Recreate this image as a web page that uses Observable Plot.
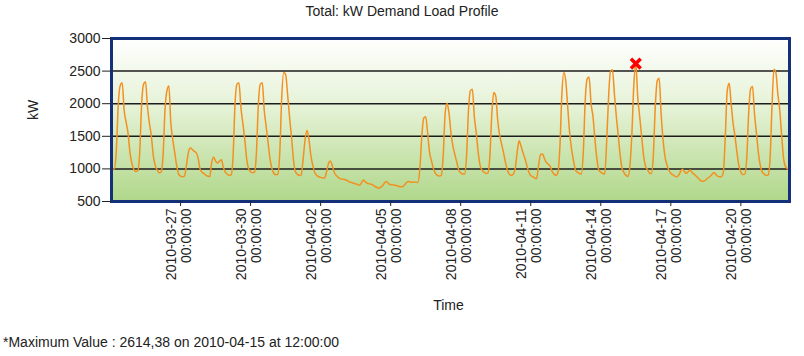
<!DOCTYPE html>
<html><head><meta charset="utf-8">
<script src="https://cdn.jsdelivr.net/npm/d3@7"></script>
<script src="https://cdn.jsdelivr.net/npm/@observablehq/plot@0.6"></script>
<style>
body{margin:0;background:#fff;font-family:"Liberation Sans",Arial,sans-serif;color:#222}
#title{height:22px;line-height:22px;text-align:center;font-size:14px}
#caption{font-size:14px;padding-left:3px;height:24px;line-height:20px}
#chart svg{display:block}
</style></head><body>
<div id="title">Total: kW Demand Load Profile</div>
<div id="chart"></div>
<div id="caption">*Maximum Value : 2614,38 on 2010-04-15 at 12:00:00</div>
<script>
// kW readings every 2 hours (00,02,...,22h), one row of 12 per day, from 2010-03-24
const wk1 = [ // 03-24 .. 03-30
  1000, 995, 1000, 1300, 2000, 2280, 2320, 1900, 1720, 1550, 1250, 1080,
  990, 960, 970, 1250, 2000, 2300, 2335, 1950, 1700, 1500, 1200, 1050,
  980, 940, 950, 1200, 1900, 2200, 2270, 1700, 1450, 1250, 1050, 920,
  890, 880, 890, 1050, 1250, 1320, 1300, 1270, 1250, 1170, 1000, 950,
  930, 900, 890, 880, 1100, 1180, 1120, 1090, 1120, 1140, 1020, 950,
  920, 900, 910, 1200, 2000, 2300, 2320, 1950, 1700, 1450, 1150, 1000,
  960, 940, 950, 1250, 2000, 2300, 2320, 1900, 1650, 1400, 1150, 1000
];
const wk2 = [ // 03-31 .. 04-06
  930, 910, 920, 1250, 2100, 2480, 2450, 2150, 1800, 1500, 1150, 960,
  920, 900, 910, 1150, 1450, 1590, 1450, 1200, 1050, 940, 900, 880,
  870, 860, 860, 950, 1080, 1120, 1050, 950, 900, 870, 850, 840,
  840, 830, 815, 800, 790, 780, 770, 760, 750, 790, 830, 800,
  780, 770, 765, 750, 730, 715, 705, 720, 750, 790, 805, 770,
  760, 755, 750, 745, 735, 725, 725, 750, 785, 805, 800, 795,
  800, 796, 790, 1000, 1500, 1780, 1800, 1550, 1250, 1120, 1000, 930
];
const wk3 = [ // 04-07 .. 04-13
  900, 890, 900, 1200, 1850, 2005, 1850, 1550, 1350, 1220, 1100, 980,
  940, 920, 920, 1200, 1900, 2200, 2220, 1800, 1550, 1250, 1050, 980,
  950, 930, 940, 1200, 1850, 2170, 2120, 1750, 1520, 1380, 1250, 1100,
  980, 920, 900, 920, 1000, 1250, 1430, 1350, 1250, 1160, 1050, 950,
  900, 880, 860, 850, 1050, 1220, 1230, 1160, 1100, 1070, 1040, 960,
  920, 900, 950, 1350, 2150, 2480, 2350, 1950, 1550, 1300, 1120, 980,
  950, 930, 920, 1250, 2050, 2380, 2410, 2000, 1800, 1450, 1150, 980
];
const wk4 = [ // 04-14 .. 04-20
  950, 930, 920, 1400, 2100, 2500, 2520, 2150, 1800, 1500, 1200, 1000,
  940, 900, 885, 1050, 1550, 2300, 2614, 2100, 1800, 1500, 1200, 1040,
  990, 934, 930, 1200, 1950, 2350, 2390, 1850, 1450, 1190, 1060, 980,
  934, 910, 890, 880, 900, 960, 995, 960, 930, 960, 985, 940,
  920, 890, 860, 830, 810, 815, 830, 860, 880, 910, 945, 920,
  890, 880, 880, 950, 1500, 2200, 2315, 2000, 1700, 1500, 1250, 1050,
  950, 915, 920, 1150, 1850, 2230, 2265, 1850, 1550, 1250, 1050, 950
];
const wk5 = [ // 04-21 .. 04-22 02h
  920, 900, 905, 1150, 1950, 2530, 2480, 2150, 1900, 1500, 1150, 1030,
  1000, 985
];
const yTicks = [500, 1000, 1500, 2000, 2500, 3000];
const gridValues = [1000, 1500, 2000, 2500];
const tickDates = ["2010-03-27", "2010-03-30", "2010-04-02", "2010-04-05", "2010-04-08",
                   "2010-04-11", "2010-04-14", "2010-04-17", "2010-04-20"];
const tickTime = "00:00:00";
const peakTime = "2010-04-15T12:00:00Z";
const peakValue = 2614.38;

const startDay = Date.UTC(2010, 2, 24);
const values = [wk1, wk2, wk3, wk4, wk5].flat();
const data = values.map((v, i) => ({t: new Date(startDay + i * 2 * 3600e3), v}));
const ticks = tickDates.map(s => new Date(s + "T00:00:00Z"));
const peak = [{t: new Date(peakTime), v: peakValue}];

const bg = (index, scales, vals, dims) => {
  const g = d3.create("svg:g");
  const grad = g.append("defs").append("linearGradient").attr("id", "bgGrad")
    .attr("x1", 0).attr("y1", 0).attr("x2", 0).attr("y2", 1);
  grad.append("stop").attr("offset", "0%").attr("stop-color", "#ffffff");
  grad.append("stop").attr("offset", "45%").attr("stop-color", "#e3f1d3");
  grad.append("stop").attr("offset", "100%").attr("stop-color", "#b0d78a");
  g.append("rect")
    .attr("x", dims.marginLeft).attr("y", dims.marginTop)
    .attr("width", dims.width - dims.marginLeft - dims.marginRight)
    .attr("height", dims.height - dims.marginTop - dims.marginBottom)
    .attr("fill", "url(#bgGrad)");
  return g.node();
};

const chart = Plot.plot({
  width: 804, height: 310,
  marginTop: 16, marginBottom: 131, marginLeft: 111, marginRight: 15,
  style: {fontFamily: '"Liberation Sans", Arial, sans-serif', fontSize: "14px", color: "#222", background: "transparent"},
  x: {type: "utc", domain: [new Date(Date.UTC(2010, 2, 24, 1)), new Date(Date.UTC(2010, 3, 22, 2))]},
  y: {domain: [500, 3000]},
  marks: [
    bg,
    Plot.ruleY(gridValues, {stroke: "#1c1c1c", strokeWidth: 1.5}),
    Plot.line(data, {x: "t", y: "v", stroke: "#f3901f", strokeWidth: 1.5, curve: "monotone-x", clip: true}),
    Plot.dot(peak, {x: "t", y: "v", symbol: "times", r: 4.5, stroke: "#ff0000", strokeWidth: 3.5}),
    Plot.frame({stroke: "#14307a", strokeWidth: 3}),
    Plot.axisY({ticks: yTicks, tickSize: 9, tickPadding: 2, label: null, fontSize: 14, tickFormat: d => String(d)}),
    Plot.axisX({ticks: ticks, tickSize: 5, tickFormat: () => "", label: null}),
    Plot.text(ticks, {x: d => d, text: (d, i) => tickDates[i] + "\n" + tickTime, frameAnchor: "bottom",
      rotate: -90, textAnchor: "end", lineAnchor: "middle", dy: 7, dx: -2, fontSize: 14, lineHeight: 1.08}),
    Plot.text(["kW"], {frameAnchor: "left", dx: -78, rotate: -90, fontSize: 14}),
    Plot.text(["Time"], {frameAnchor: "bottom", dy: 108, dx: -2, fontSize: 14})
  ]
});
document.getElementById("chart").appendChild(chart);
</script>
</body></html>
